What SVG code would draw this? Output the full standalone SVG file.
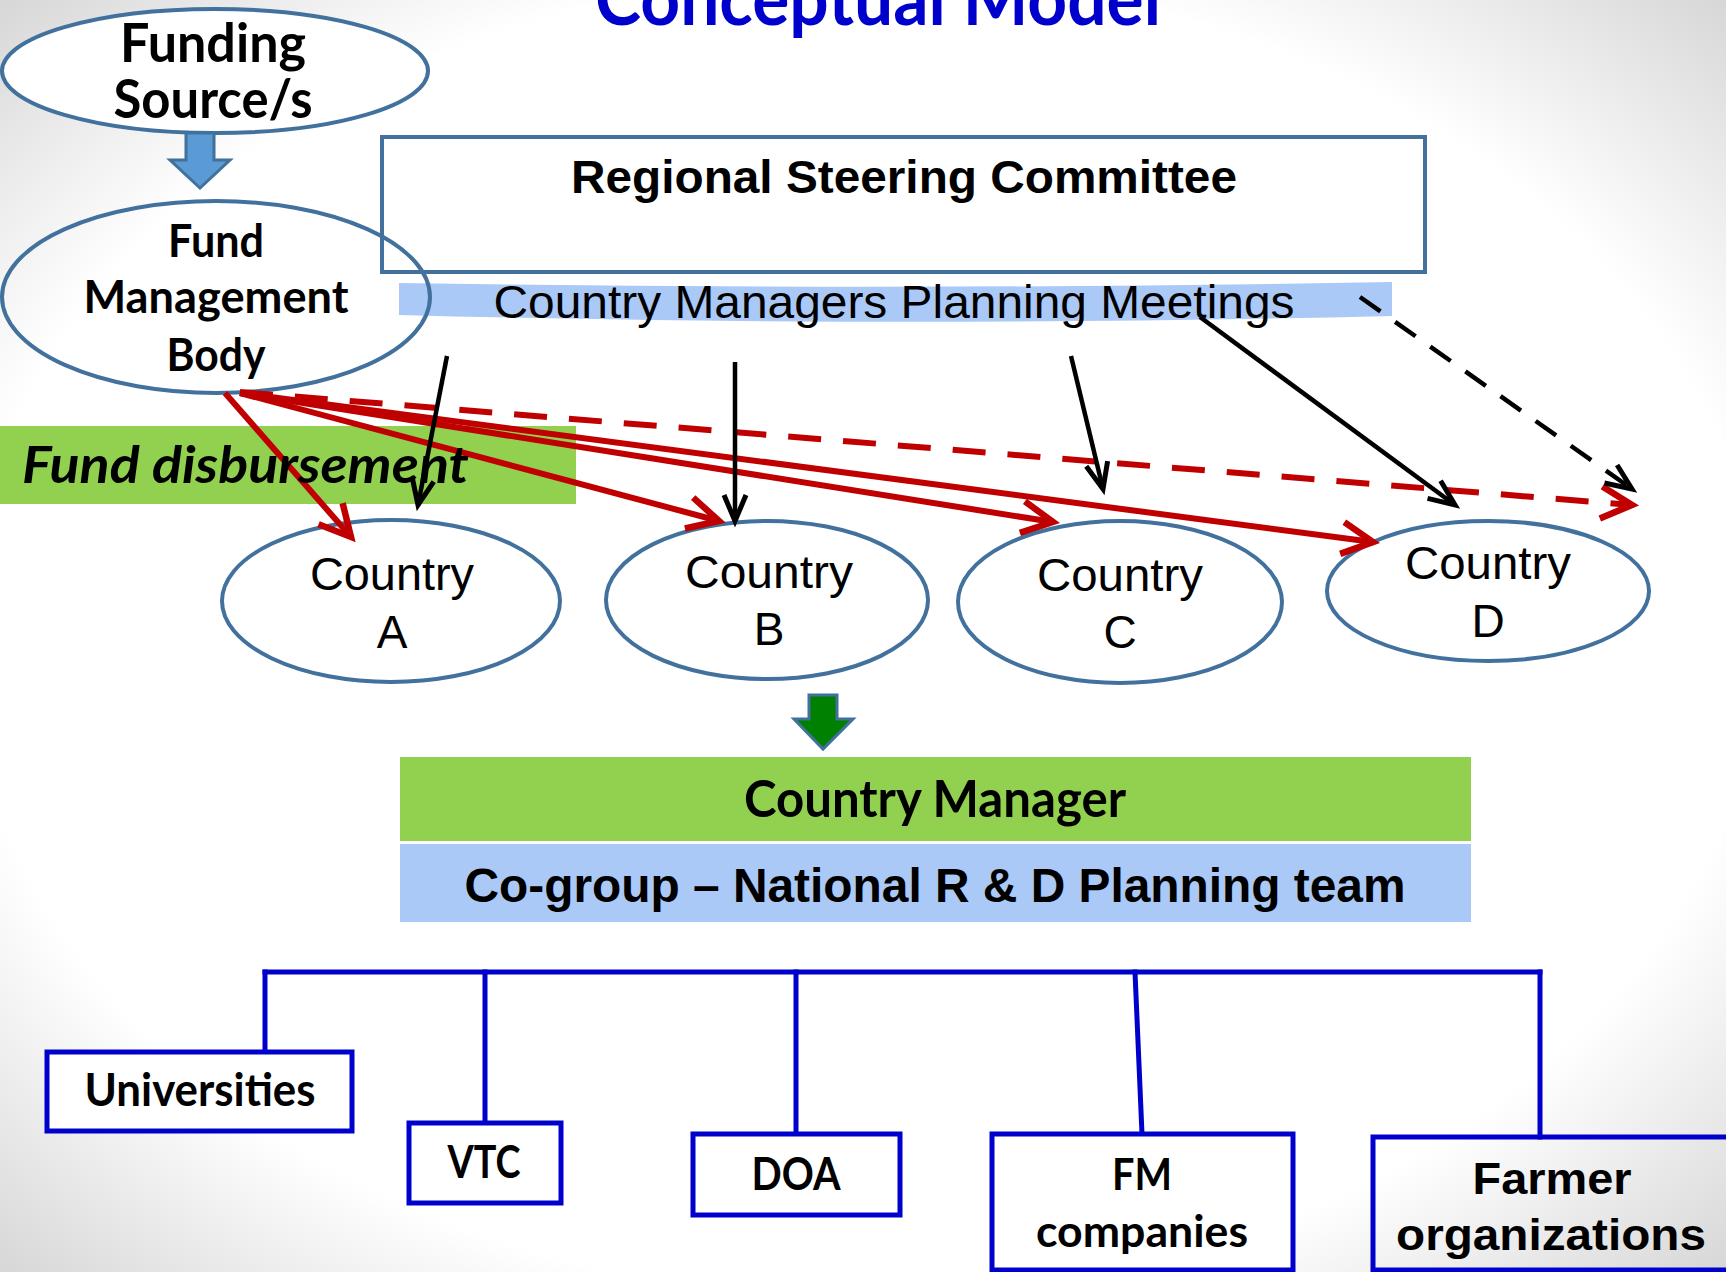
<svg xmlns="http://www.w3.org/2000/svg" width="1726" height="1272" viewBox="0 0 1726 1272">
  <defs>
    <radialGradient id="slideBg" cx="0.5" cy="0.5" r="0.72">
      <stop offset="0" stop-color="#ffffff"/>
      <stop offset="0.72" stop-color="#ffffff"/>
      <stop offset="1" stop-color="#d4d4d4"/>
    </radialGradient>
    <!-- open chevron heads -->
    <marker id="headRed" markerUnits="userSpaceOnUse" orient="auto" refX="0" refY="0" markerWidth="80" markerHeight="80" viewBox="-40 -40 80 80" overflow="visible">
      <path d="M-31,-16 L0,0 L-31,16" fill="none" stroke="#C00000" stroke-width="6.5" stroke-dasharray="none" stroke-linejoin="miter"/>
    </marker>
    <marker id="headBlack" markerUnits="userSpaceOnUse" orient="auto" refX="0" refY="0" markerWidth="80" markerHeight="80" viewBox="-40 -40 80 80" overflow="visible">
      <path d="M-26,-11 L0,0 L-26,11" fill="none" stroke="#000000" stroke-width="5" stroke-dasharray="none" stroke-linejoin="miter"/>
    </marker>
    <style>
      .c { font-family: Lato, "Open Sans", "Liberation Sans", sans-serif; font-weight: 700; fill: #000; }
      .a { font-family: "Liberation Sans", Arial, sans-serif; fill: #000; }
      .ab { font-family: "Liberation Sans", Arial, sans-serif; font-weight: 700; fill: #000; }
      .oval { stroke: #41719C; stroke-width: 4; }
      .blueBox { fill: #ffffff; stroke: #0000CC; stroke-width: 5; }
      .tree { fill: none; stroke: #0000CC; stroke-width: 5; stroke-linecap: square; }
      .red { fill: none; stroke: #C00000; stroke-width: 6; marker-end: url(#headRed); }
      .blk { fill: none; stroke: #000000; stroke-width: 4.5; marker-end: url(#headBlack); }
    </style>
  </defs>

  <!-- slide background -->
  <rect x="0" y="0" width="1726" height="1272" fill="url(#slideBg)"/>

  <!-- title -->
  <text class="c" x="878" y="25" font-size="75" text-anchor="middle" textLength="566" lengthAdjust="spacingAndGlyphs" style="fill:#0000CC">Conceptual Model</text>

  <!-- Funding source -->
  <g id="funding-source">
    <ellipse class="oval" cx="215" cy="71" rx="213" ry="62" fill="#ffffff"/>
    <text class="c" x="213" y="62" font-size="54" text-anchor="middle" textLength="186" lengthAdjust="spacingAndGlyphs">Funding</text>
    <text class="c" x="213" y="118" font-size="54" text-anchor="middle" textLength="199" lengthAdjust="spacingAndGlyphs">Source/s</text>
  </g>

  <!-- block arrow: funding to fund management -->
  <g id="funding-arrow">
    <polygon points="186,133 214,133 214,160 230,160 200,188 170,160 186,160" fill="#5B9BD5" stroke="#41719C" stroke-width="3" stroke-linejoin="miter"/>
  </g>

  <!-- Regional Steering Committee -->
  <g id="regional-steering-committee">
    <rect x="382" y="137" width="1043" height="135" fill="none" stroke="#41719C" stroke-width="4"/>
    <text class="ab" x="904" y="193" font-size="46" text-anchor="middle" textLength="666" lengthAdjust="spacingAndGlyphs">Regional Steering Committee</text>
  </g>

  <!-- Country Managers Planning Meetings ribbon -->
  <g id="planning-meetings">
    <path d="M399,283 Q895,291 1392,282 L1392,316 Q895,328 399,315 Z" fill="#ABC9F6"/>
    <text class="a" x="894" y="318" font-size="46" text-anchor="middle" textLength="801" lengthAdjust="spacingAndGlyphs">Country Managers Planning Meetings</text>
  </g>

  <!-- Fund Management Body -->
  <g id="fund-management-body">
    <ellipse class="oval" cx="216" cy="297" rx="214" ry="96" fill="none"/>
    <text class="c" x="216" y="257" font-size="46" text-anchor="middle" textLength="96" lengthAdjust="spacingAndGlyphs">Fund</text>
    <text class="c" x="216" y="313" font-size="46" text-anchor="middle" textLength="265" lengthAdjust="spacingAndGlyphs">Management</text>
    <text class="c" x="216" y="371" font-size="46" text-anchor="middle" textLength="99" lengthAdjust="spacingAndGlyphs">Body</text>
  </g>

  <!-- Fund disbursement band -->
  <g id="fund-disbursement">
    <rect x="0" y="426" width="576" height="78" fill="#92D050"/>
  </g>

  <!-- Countries -->
  <g id="country-a">
    <ellipse class="oval" cx="391" cy="601" rx="169" ry="81" fill="#ffffff"/>
    <text class="a" x="392" y="590" font-size="46" text-anchor="middle" textLength="164" lengthAdjust="spacingAndGlyphs">Country</text>
    <text class="a" x="392" y="648" font-size="46" text-anchor="middle">A</text>
  </g>
  <g id="country-b">
    <ellipse class="oval" cx="767" cy="600" rx="161" ry="79" fill="#ffffff"/>
    <text class="a" x="769" y="588" font-size="46" text-anchor="middle" textLength="168" lengthAdjust="spacingAndGlyphs">Country</text>
    <text class="a" x="769" y="645" font-size="46" text-anchor="middle">B</text>
  </g>
  <g id="country-c">
    <ellipse class="oval" cx="1120" cy="602" rx="162" ry="81" fill="#ffffff"/>
    <text class="a" x="1120" y="591" font-size="46" text-anchor="middle" textLength="166" lengthAdjust="spacingAndGlyphs">Country</text>
    <text class="a" x="1120" y="648" font-size="46" text-anchor="middle">C</text>
  </g>
  <g id="country-d">
    <ellipse class="oval" cx="1488" cy="591" rx="161" ry="70" fill="#ffffff"/>
    <text class="a" x="1488" y="579" font-size="46" text-anchor="middle" textLength="166" lengthAdjust="spacingAndGlyphs">Country</text>
    <text class="a" x="1488" y="637" font-size="46" text-anchor="middle">D</text>
  </g>

  <!-- Connectors -->
  <g id="connectors">
    <!-- fund flows from the Fund Management Body -->
    <path class="red" d="M225,393 L351,537"/>
    <path class="red" d="M240,393 L719,521"/>
    <path class="red" d="M240,393 L1053,522"/>
    <path class="red" d="M240,393 L1373,542"/>
    <path class="red" d="M240,392 L1632,505" stroke-dasharray="33 22"/>
    <!-- planning links from the meetings -->
    <path class="blk" d="M447,356 L418,505"/>
    <path class="blk" d="M735,362 L735,521"/>
    <path class="blk" d="M1071,356 L1103,489"/>
    <path class="blk" d="M1200,317 L1455,505"/>
    <path class="blk" d="M1360,297 L1632,489" stroke-dasharray="25 18"/>
    <!-- national partner tree -->
    <path class="tree" d="M265,972 L1540,972"/>
    <path class="tree" d="M265,972 L265,1052"/>
    <path class="tree" d="M485,972 L485,1123"/>
    <path class="tree" d="M796,972 L796,1134"/>
    <path class="tree" d="M1135,972 L1142,1134"/>
    <path class="tree" d="M1540,972 L1540,1137"/>
  </g>

  <g id="fund-disbursement-label">
    <text class="c" x="22" y="483" font-size="52" font-style="italic" textLength="447" lengthAdjust="spacingAndGlyphs">Fund disbursement</text>
  </g>

  <!-- block arrow: countries to country manager -->
  <g id="country-arrow">
    <polygon points="809,695 837,695 837,719 853,719 823,749 794,719 809,719" fill="#008000" stroke="#41719C" stroke-width="3" stroke-linejoin="miter"/>
  </g>

  <g id="country-manager">
    <rect x="400" y="757" width="1071" height="84" fill="#92D050"/>
    <text class="c" x="935" y="817" font-size="52" text-anchor="middle" textLength="382" lengthAdjust="spacingAndGlyphs">Country Manager</text>
  </g>

  <g id="co-group">
    <rect x="400" y="844" width="1071" height="78" fill="#ABC9F6"/>
    <text class="ab" x="935" y="902" font-size="48" text-anchor="middle" textLength="941" lengthAdjust="spacingAndGlyphs">Co-group – National R &amp; D Planning team</text>
  </g>

  <!-- partner boxes -->
  <g id="universities">
    <rect class="blueBox" x="47" y="1052" width="305" height="79"/>
    <text class="c" x="200" y="1106" font-size="45" text-anchor="middle" textLength="231" lengthAdjust="spacingAndGlyphs">Universities</text>
  </g>
  <g id="vtc">
    <rect class="blueBox" x="409" y="1123" width="152" height="80"/>
    <text class="c" x="484" y="1178" font-size="45" text-anchor="middle" textLength="73" lengthAdjust="spacingAndGlyphs">VTC</text>
  </g>
  <g id="doa">
    <rect class="blueBox" x="693" y="1134" width="207" height="81"/>
    <text class="c" x="796" y="1190" font-size="45" text-anchor="middle" textLength="89" lengthAdjust="spacingAndGlyphs">DOA</text>
  </g>
  <g id="fm-companies">
    <rect class="blueBox" x="992" y="1134" width="301" height="136"/>
    <text class="c" x="1142" y="1190" font-size="44" text-anchor="middle" textLength="60" lengthAdjust="spacingAndGlyphs">FM</text>
    <text class="c" x="1142" y="1247" font-size="44" text-anchor="middle" textLength="212" lengthAdjust="spacingAndGlyphs">companies</text>
  </g>
  <g id="farmer-organizations">
    <rect x="1373" y="1137" width="400" height="133" fill="none" stroke="#0000CC" stroke-width="5"/>
    <text class="ab" x="1552" y="1194" font-size="45" text-anchor="middle" textLength="159" lengthAdjust="spacingAndGlyphs">Farmer</text>
    <text class="ab" x="1551" y="1250" font-size="45" text-anchor="middle" textLength="310" lengthAdjust="spacingAndGlyphs">organizations</text>
  </g>
</svg>
